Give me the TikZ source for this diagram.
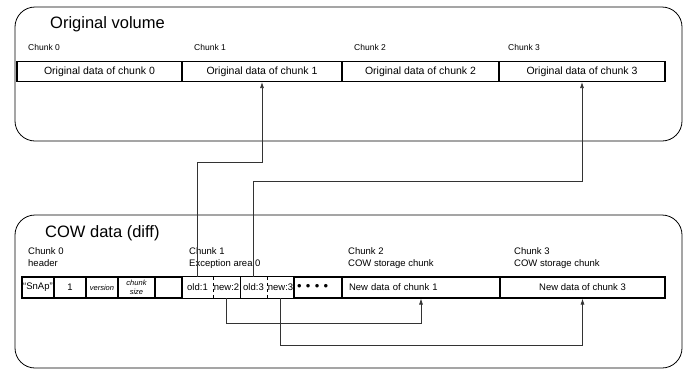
\documentclass[tikz,border=0pt]{standalone}
\usepackage{fontspec}
\setmainfont{Liberation Sans}
\usetikzlibrary{arrows.meta}
\begin{document}
\begin{tikzpicture}[x=1pt,y=-1pt,
  area/.style={draw, line width=0.8pt, rounded corners=20pt},
  title/.style={anchor=west, inner sep=0, font=\fontsize{16.5}{18}\selectfont},
  lbl/.style={anchor=west, inner sep=0, font=\fontsize{8.5}{10}\selectfont},
  lbltwo/.style={anchor=north west, inner sep=0, align=left, font=\fontsize{9.5}{12}\selectfont},
  cell/.style={draw, line width=1.1pt, minimum width=#1, minimum height=20pt, inner sep=0, font=\fontsize{10.5}{12}\selectfont},
  cow/.style={draw, line width=1.1pt, minimum width=#1, minimum height=21pt, inner sep=0, font=\fontsize{9.5}{11}\selectfont},
  exc/.style={minimum width=#1, minimum height=21pt, inner sep=0, font=\fontsize{9.5}{11}\selectfont},
  tiny/.style={font=\fontsize{7.5}{8.5}\selectfont\itshape, align=center},
  conn/.style={draw=black!80, line width=0.7pt, -{Latex[length=6pt,width=4pt]}}]
\useasboundingbox (0,0) rectangle (691,370);
% original volume
\draw[area] (15,7) rectangle (682,141);
\node[title] (voltitle) at (50,24) {Original volume};
\node[lbl] (vl0) at (28,47) {Chunk 0};
\node[lbl] (vl1) at (194,47) {Chunk 1};
\node[lbl] (vl2) at (354,47) {Chunk 2};
\node[lbl] (vl3) at (508,47) {Chunk 3};
\node[cell=165pt] (o0) at (99.5,71.5) {Original data of chunk 0};
\node[cell=160pt] (o1) at (262,71.5) {Original data of chunk 1};
\node[cell=157pt] (o2) at (420.5,71.5) {Original data of chunk 2};
\node[cell=166pt] (o3) at (582,71.5) {Original data of chunk 3};
% cow data
\draw[area] (15,215) rectangle (682,368);
\node[title] (cowtitle) at (45,233) {COW data (diff)};
\node[lbltwo] (cl0) at (28,247) {Chunk 0\\header};
\node[lbltwo] (cl1) at (189,247) {Chunk 1\\Exception area 0};
\node[lbltwo] (cl2) at (348,247) {Chunk 2\\COW storage chunk};
\node[lbltwo] (cl3) at (514,247) {Chunk 3\\COW storage chunk};
\node[cow=32pt] (magic) at (38,287.5) {``SnAp''};
\node[cow=32pt] (one) at (70,287.5) {1};
\node[cow=32pt, tiny] (vers) at (102,287.5) {version};
\node[cow=37pt, tiny] (csize) at (136.5,287.5) {chunk\\size};
\node[cow=27pt] (pad) at (168.5,287.5) {};
\node[exc=31pt] (old1) at (197.5,287.5) {old:1};
\node[exc=27pt] (new2) at (226.5,287.5) {new:2};
\node[exc=27pt] (old3) at (253.5,287.5) {old:3};
\node[exc=27pt] (new3) at (280.5,287.5) {new:3};
\node[cow=48pt, align=left, text width=42pt, inner xsep=3pt, font=\fontsize{13}{12}\selectfont] (dots) at (318,287.5) {• • • •};
\node[cow=158pt, align=left, text width=144pt, inner xsep=7pt] (n1) at (421,287.5) {New data of chunk 1};
\node[cow=165pt] (n3) at (582.5,287.5) {New data of chunk 3};
\draw[line width=1.1pt] (old1.north west) rectangle (new3.south east);
\draw[line width=1.1pt] (new2.north east) -- (new2.south east);
\draw[dashed] (old1.north east) -- (old1.south east);
\draw[dashed] (old3.north east) -- (old3.south east);
% connectors
\coordinate (up1) at (0,162);
\coordinate (up3) at (0,181);
\coordinate (dn2) at (0,323);
\coordinate (dn3) at (0,345);
\draw[conn] (old1.north) -- (old1.north |- up1) -| (o1.south);
\draw[conn] (old3.north) -- (old3.north |- up3) -| (o3.south);
\draw[conn] (new2.south) -- (new2.south |- dn2) -| (n1.south);
\draw[conn] (new3.south) -- (new3.south |- dn3) -| (n3.south);
\end{tikzpicture}
\end{document}
